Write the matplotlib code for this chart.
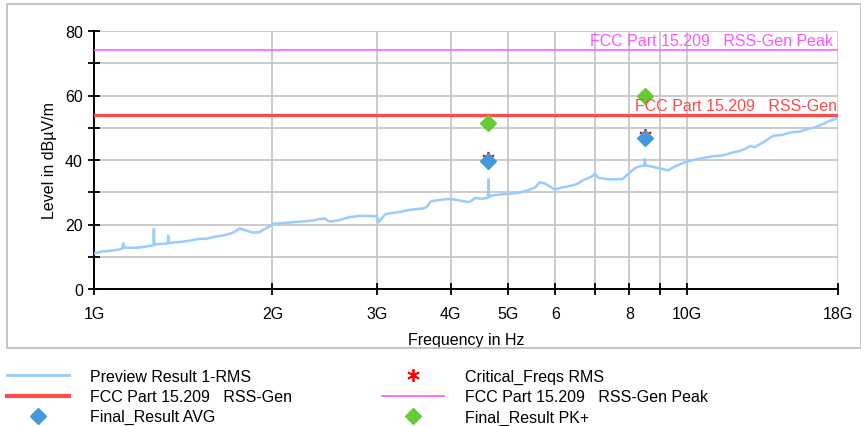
import numpy as np
import matplotlib.pyplot as plt
from matplotlib.patches import Rectangle
from matplotlib.lines import Line2D

plt.rcParams['font.family'] = ['Liberation Sans', 'DejaVu Sans']

# ---- data (frequency in GHz, level in dBuV/m) ----
preview_freq = [1.00, 1.03, 1.06, 1.10, 1.115, 1.12, 1.125, 1.18, 1.22, 1.26, 1.262, 1.264,
                1.30, 1.332, 1.334, 1.336, 1.40, 1.45, 1.50, 1.55, 1.60, 1.65, 1.70, 1.73,
                1.76, 1.80, 1.85, 1.90, 1.93, 1.97, 2.00, 2.10, 2.20, 2.30, 2.35, 2.40,
                2.45, 2.50, 2.60, 2.70, 2.80, 2.90, 2.98, 3.00, 3.02, 3.10, 3.20, 3.30,
                3.40, 3.50, 3.60, 3.65, 3.70, 3.80, 3.90, 4.00, 4.10, 4.20, 4.30, 4.40,
                4.50, 4.62, 4.63, 4.64, 4.70, 4.80, 5.00, 5.20, 5.40, 5.55, 5.65, 5.75,
                5.90, 6.00, 6.10, 6.30, 6.50, 6.70, 6.90, 7.00, 7.10, 7.30, 7.50, 7.80,
                8.00, 8.20, 8.40, 8.48, 8.50, 8.52, 8.70, 9.00, 9.30, 9.60, 10.0, 10.5,
                11.0, 11.5, 12.0, 12.3, 12.6, 12.8, 13.0, 13.5, 14.0, 14.5, 15.0, 15.5,
                16.0, 16.5, 17.0, 17.5, 17.8, 18.0]
preview_level = [11.0, 11.6, 11.8, 12.2, 12.5, 14.2, 12.8, 12.8, 13.1, 13.6, 18.6, 13.8,
                 14.0, 14.1, 16.5, 14.3, 14.6, 15.0, 15.5, 15.6, 16.2, 16.6, 17.2, 17.8,
                 18.8, 18.2, 17.5, 17.6, 18.4, 19.2, 20.2, 20.5, 20.8, 21.1, 21.3, 21.7,
                 21.8, 20.9, 21.4, 22.3, 22.6, 22.7, 22.5, 22.7, 20.7, 23.2, 23.6, 24.0,
                 24.5, 24.8, 25.0, 25.6, 27.2, 27.5, 27.8, 27.9, 27.6, 27.2, 27.0, 28.2,
                 28.0, 28.2, 34.0, 28.6, 29.0, 29.2, 29.5, 29.8, 30.6, 31.5, 33.1, 32.8,
                 31.6, 30.8, 31.3, 31.8, 32.4, 33.8, 34.8, 35.7, 34.5, 34.1, 34.0, 34.1,
                 36.0, 37.6, 38.2, 38.2, 40.3, 38.4, 38.0, 37.4, 36.8, 38.2, 39.5, 40.4,
                 41.1, 41.4, 42.4, 42.8, 43.6, 44.4, 43.9, 45.6, 47.5, 47.8, 48.6, 48.8,
                 49.6, 50.2, 51.2, 52.3, 52.6, 53.7]

limit_avg = 54
limit_peak = 74

final_freq = [4.63, 8.50]
final_avg = [39.8, 46.8]
final_pk = [51.5, 59.9]
critical_rms = [40.6, 47.6]

xticks = [1, 2, 3, 4, 5, 6, 7, 8, 9, 10, 18]
xticklabels = ['1G', '2G', '3G', '4G', '5G', '6', '', '8', '', '10G', '18G']
yticks = [0, 10, 20, 30, 40, 50, 60, 70, 80]
yticklabels = ['0', '', '20', '', '40', '', '60', '', '80']

# ---- colours ----
c_preview = '#99CCFF'
c_avg_lim = '#FF4B4B'
c_pk_lim = '#FF55FF'
c_avg = '#4499DD'
c_pk = '#66CC33'
c_crit = '#FF0000'
c_grid = '#C4C4C4'

fig = plt.figure(figsize=(8.62, 4.27), dpi=100)
ax = fig.add_axes([94/862, 1-290/427, (838-94)/862, (290-32)/427])

# outer box
fig.patches.append(Rectangle((7/862, 1-349/427), (861-7)/862, (349-5)/427,
                             transform=fig.transFigure, fill=False,
                             edgecolor='#BBBBBB', linewidth=1.2, zorder=0))

f = np.array(preview_freq) * 1e9
ax.plot(f, preview_level, color=c_preview, lw=1.8, zorder=3)
ax.axhline(limit_avg, color=c_avg_lim, lw=2.3, zorder=4)
ax.axhline(limit_peak, color=c_pk_lim, lw=1.1, zorder=4)

ff = np.array(final_freq) * 1e9
ax.plot(ff, critical_rms, ls='none', marker=(6, 2, 0), ms=9, mew=1.3,
        color=c_crit, zorder=5)
ax.plot(ff, final_avg, ls='none', marker='D', ms=8, color=c_avg, zorder=6)
ax.plot(ff, final_pk, ls='none', marker='D', ms=8, color=c_pk, zorder=6)

ax.text(17.65e9, 74.6, 'FCC Part 15.209   RSS-Gen Peak', color=c_pk_lim,
        fontsize=11.5, ha='right', va='bottom', zorder=7)
ax.text(17.9e9, 54.6, 'FCC Part 15.209   RSS-Gen', color=c_avg_lim,
        fontsize=11.5, ha='right', va='bottom', zorder=7)

ax.set_xscale('log')
ax.set_xlim(1e9, 18e9)
ax.set_ylim(0, 80)
ax.set_xticks([x * 1e9 for x in xticks])
ax.set_xticklabels(xticklabels)
ax.xaxis.set_minor_locator(plt.NullLocator())
ax.set_yticks(yticks)
ax.set_yticklabels(yticklabels)
ax.tick_params(axis='both', direction='inout', length=8, width=1.3,
               labelsize=11.5, color='black')
ax.tick_params(axis='x', pad=8)
ax.tick_params(axis='y', pad=4)
ax.grid(True, color=c_grid, lw=1.2, zorder=0)
ax.set_axisbelow(True)
for s in ['top', 'right']:
    ax.spines[s].set_visible(False)
for s in ['left', 'bottom']:
    ax.spines[s].set_linewidth(1.4)

ax.set_ylabel('Level in dBµV/m', fontsize=11.5, labelpad=6)
ax.set_xlabel('Frequency in Hz', fontsize=11.5, labelpad=8)

handles = [
    Line2D([], [], color=c_preview, lw=2),
    Line2D([], [], color=c_avg_lim, lw=3),
    Line2D([], [], ls='none', marker='D', ms=8, color=c_avg),
    Line2D([], [], ls='none', marker=(6, 2, 0), ms=9, mew=1.3, color=c_crit),
    Line2D([], [], color=c_pk_lim, lw=1.2),
    Line2D([], [], ls='none', marker='D', ms=8, color=c_pk),
]
labels = ['Preview Result 1-RMS', 'FCC Part 15.209   RSS-Gen', 'Final_Result AVG',
          'Critical_Freqs RMS', 'FCC Part 15.209   RSS-Gen Peak', 'Final_Result PK+']
fig.legend(handles, labels, ncol=2, loc='upper left',
           bbox_to_anchor=(7/862, 1-370/427), frameon=False, fontsize=11.5,
           handlelength=3.9, handletextpad=1.3, columnspacing=5.6,
           labelspacing=0.32, borderpad=0, borderaxespad=0)

fig.savefig('out.png', dpi=100)
